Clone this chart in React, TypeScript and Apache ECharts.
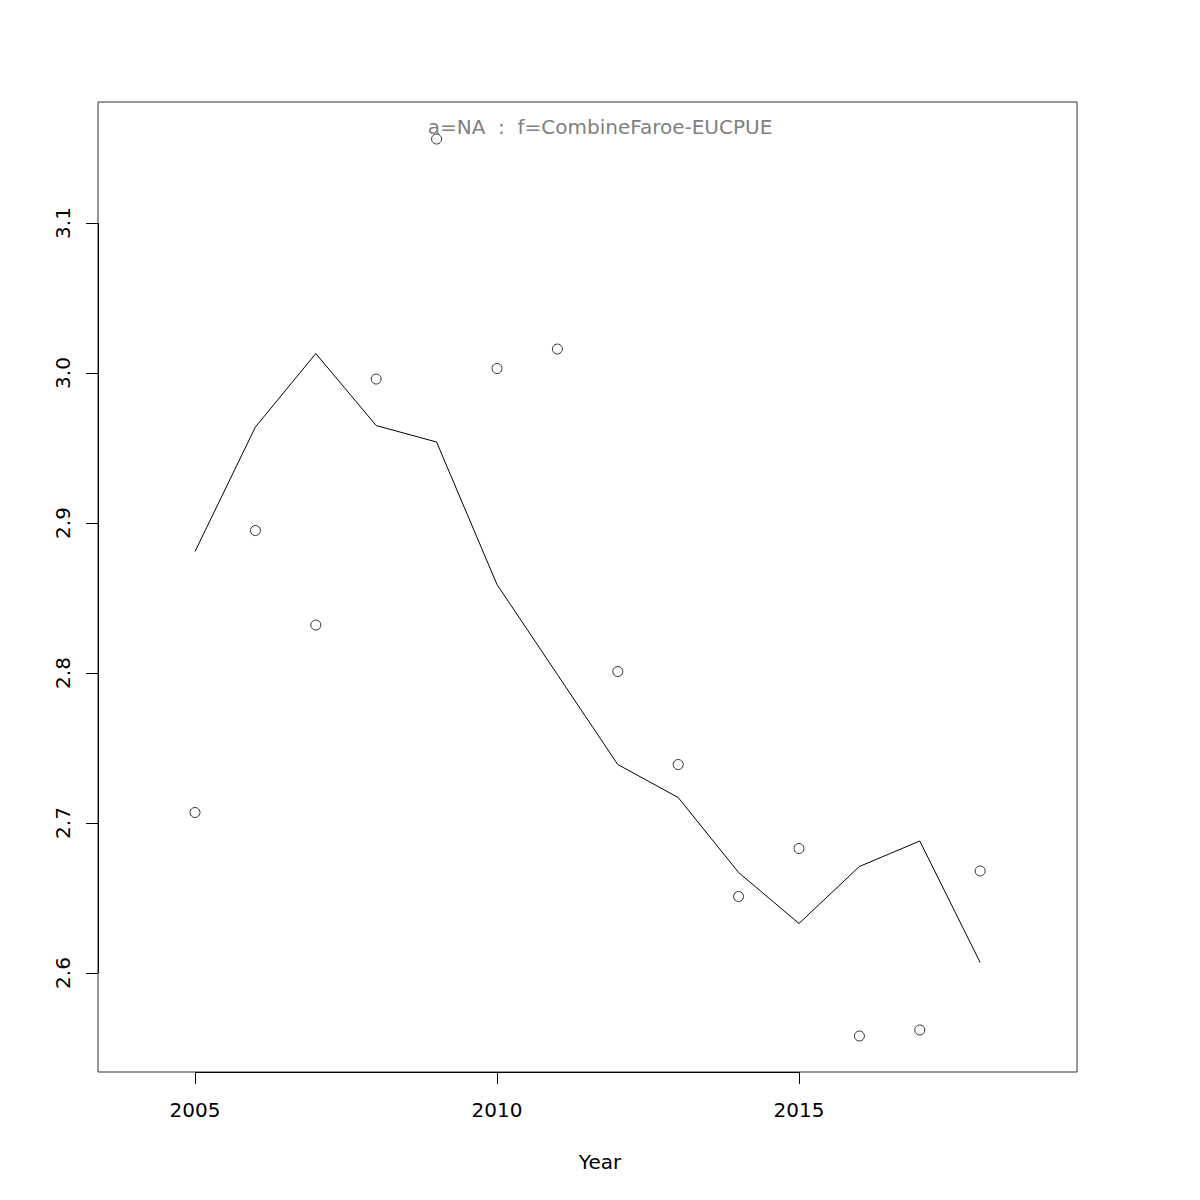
import React, { useEffect, useRef } from "react";
import * as echarts from "echarts";

const years = [2005, 2006, 2007, 2008, 2009, 2010, 2011, 2012, 2013, 2014, 2015, 2016, 2017, 2018];
const observed = [2.707, 2.895, 2.832, 2.996, 3.156, 3.003, 3.016, 2.801, 2.739, 2.651, 2.683, 2.558, 2.562, 2.668];
const fitted = [2.881, 2.964, 3.013, 2.965, 2.954, 2.859, 2.799, 2.739, 2.717, 2.667, 2.633, 2.671, 2.688, 2.607];
const xTicks = [2005, 2010, 2015];
const yTicks = [2.6, 2.7, 2.8, 2.9, 3.0, 3.1];
const titleText = "a=NA  :  f=CombineFaroe-EUCPUE";
const xLabel = "Year";

export default function App() {
  const ref = useRef<HTMLDivElement>(null);
  useEffect(() => {
    if (!ref.current) return;
    const chart = echarts.init(ref.current, null, { renderer: "svg" });
    const font = "DejaVu Sans";
    chart.setOption({
      animation: false,
      backgroundColor: "#fff",
      title: [
        {
          text: titleText,
          left: "center",
          top: 112,
          textStyle: { fontFamily: font, fontSize: 20, fontWeight: "normal", color: "#808080" },
        },
        {
          text: xLabel,
          left: "center",
          top: 1147,
          textStyle: { fontFamily: font, fontSize: 20, fontWeight: "normal", color: "#000" },
        },
      ],
      grid: {
        left: 98,
        top: 102,
        width: 979,
        height: 970,
        show: true,
        borderColor: "#333",
        borderWidth: 1,
        backgroundColor: "transparent",
      },
      xAxis: {
        type: "value",
        min: 2003.394,
        max: 2019.603,
        splitLine: { show: false },
        axisLine: { show: false },
        axisTick: { show: true, length: 12, inside: false, customValues: xTicks, lineStyle: { color: "#000" } },
        axisLabel: {
          customValues: xTicks,
          margin: 28,
          fontFamily: font,
          fontSize: 20,
          color: "#000",
          formatter: (v: number) => String(v),
        },
      },
      yAxis: {
        type: "value",
        min: 2.534,
        max: 3.1807,
        splitLine: { show: false },
        axisLine: { show: false },
        axisTick: { show: true, length: 12, customValues: yTicks, lineStyle: { color: "#000" } },
        axisLabel: {
          customValues: yTicks,
          rotate: 90,
          margin: 25,
          fontFamily: font,
          fontSize: 20,
          color: "#000",
          formatter: (v: number) => v.toFixed(1),
        },
      },
      series: [
        {
          type: "line",
          data: years.map((y, i) => [y, fitted[i]]),
          showSymbol: false,
          symbol: "none",
          lineStyle: { color: "#000", width: 1 },
          silent: true,
          markLine: {
            silent: true,
            symbol: "none",
            label: { show: false },
            lineStyle: { color: "#000", width: 1, type: "solid" },
            data: [
              [{ coord: [xTicks[0], 2.534] }, { coord: [xTicks[xTicks.length - 1], 2.534] }],
              [{ coord: [2003.394, yTicks[0]] }, { coord: [2003.394, yTicks[yTicks.length - 1]] }],
            ],
          },
        },
        {
          type: "scatter",
          data: years.map((y, i) => [y, observed[i]]),
          symbol: "circle",
          symbolSize: 10,
          itemStyle: { color: "transparent", borderColor: "#000", borderWidth: 1 },
          silent: true,
        },
      ],
    });
    return () => chart.dispose();
  }, []);
  return <div ref={ref} style={{ position: "fixed", left: 0, top: 0, width: 1200, height: 1200 }} />;
}
